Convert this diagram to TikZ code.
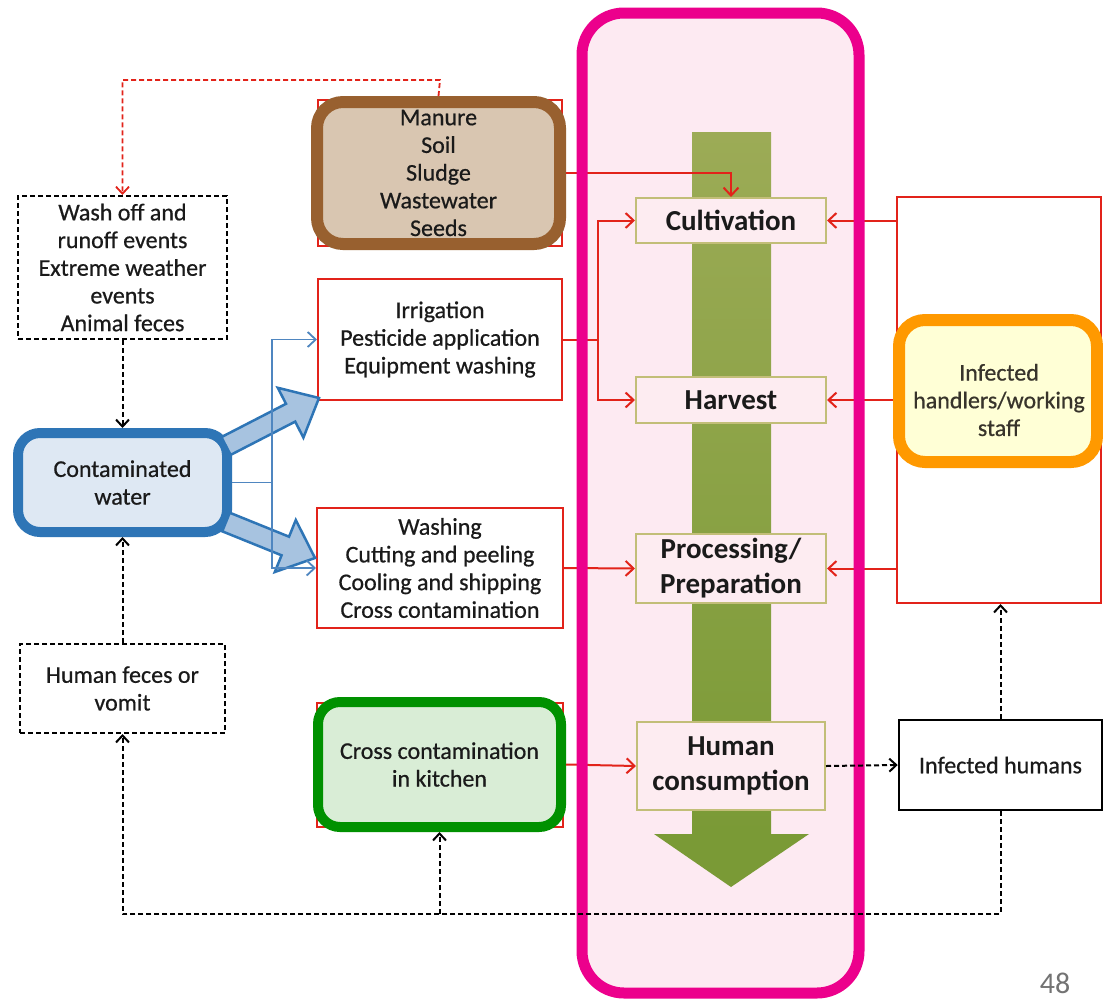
\documentclass[tikz,border=0pt]{standalone}
\usepackage{fontspec}
\setmainfont{Carlito}
\newfontfamily\semib{Carlito}[FakeBold=0.6]
\usetikzlibrary{arrows.meta}
\definecolor{pinkS}{HTML}{EC008C}
\definecolor{pinkF}{HTML}{FDEAF2}
\definecolor{redc}{HTML}{E2231A}
\definecolor{olivec}{HTML}{C2BE78}
\definecolor{boxpink}{HTML}{FDECF1}
\definecolor{greenT}{HTML}{9CAB56}
\definecolor{greenB}{HTML}{7A9A36}
\definecolor{blueS}{HTML}{2E75B6}
\definecolor{blueF}{HTML}{DEE8F3}
\definecolor{blueA}{HTML}{A7C3E0}
\definecolor{blueL}{HTML}{4F86C0}
\definecolor{brownS}{HTML}{98602F}
\definecolor{brownF}{HTML}{D9C6B1}
\definecolor{greenS}{HTML}{009100}
\definecolor{greenF}{HTML}{D9EDD6}
\definecolor{orangeS}{HTML}{FF9900}
\definecolor{yellowF}{HTML}{FFFFD6}
\definecolor{txtc}{HTML}{1A1A1A}
\begin{document}
\begin{tikzpicture}[x=1pt,y=-1pt,
  txt/.style={font=\semib\fontsize{24}{27.7}\selectfont, text=txtc, align=center, inner sep=0pt},
  btxt/.style={font=\fontsize{29}{35}\selectfont\bfseries, text=txtc, align=center, inner sep=0pt},
  dbox/.style={txt, draw=black, line width=2pt, dash pattern=on 5pt off 3pt, fill=white},
  rbox/.style={txt, draw=redc, line width=2pt, fill=white},
  obox/.style={btxt, draw=olivec, line width=2pt, fill=boxpink},
  thick box/.style={txt, line width=#1, rounded corners=22pt},
  redln/.style={draw=redc, line width=2pt},
  redar/.style={redln, -{Straight Barb[length=8pt,width=15pt,line width=2pt]}},
  blkar/.style={draw=black, line width=2pt, dash pattern=on 5pt off 3pt, -{Straight Barb[length=7pt,width=13pt,line width=2pt]}},
  rdashar/.style={draw=redc, line width=1.8pt, dash pattern=on 5pt off 3pt, -{Straight Barb[length=7pt,width=13pt,line width=1.8pt]}},
  bluln/.style={draw=blueL, line width=1.8pt},
  bluar/.style={bluln, -{Straight Barb[length=8pt,width=15pt,line width=1.8pt]}},
  blockar/.style={draw=blueS, line width=2.5pt, fill=blueA, line join=miter}
]
\useasboundingbox (0,0) rectangle (1103,999);
\fill[white] (0,0) rectangle (1103,999);

% pink column background
\fill[pinkF, rounded corners=42pt] (582,13) rectangle (859,993);

% green process arrow
\shade[top color=greenT, bottom color=greenB] (692,132) rectangle (771,836);
\fill[greenB] (654,834) -- (809,834) -- (731,887) -- cycle;

% left boxes
\node[dbox, minimum width=209pt, minimum height=143pt] (washoff) at (122.5,267.5)
  {Wash off and\\runoff events\\Extreme weather\\events\\Animal feces};
\node[dbox, minimum width=205pt, minimum height=89pt] (feces) at (122.5,688.5)
  {Human feces or\\vomit};
\node[thick box=10pt, draw=blueS, fill=blueF, minimum width=209pt, minimum height=99pt] (contam) at (122.5,482.5)
  {Contaminated\\water};

% middle boxes
\draw[redln] (318,100) rectangle (562,246);
\node[thick box=12pt, draw=brownS, fill=brownF, rounded corners=26pt, minimum width=243pt, minimum height=142pt] (manure) at (438.5,173)
  {Manure\\Soil\\Sludge\\Wastewater\\Seeds};
\node[rbox, minimum width=244pt, minimum height=121pt] (irrig) at (440,339.5)
  {Irrigation\\Pesticide application\\Equipment washing};
\node[rbox, minimum width=246pt, minimum height=120pt] (washing) at (440,568)
  {Washing\\Cutting and peeling\\Cooling and shipping\\Cross contamination};
\draw[redln] (317,703) rectangle (563,827);
\node[thick box=10pt, draw=greenS, fill=greenF, minimum width=243pt, minimum height=125pt] (kitchen) at (439.5,764.5)
  {Cross contamination\\in kitchen};

% stage boxes
\node[obox, minimum width=190pt, minimum height=45pt] (cultiv) at (731,220.5) {Cultivation};
\node[obox, minimum width=190pt, minimum height=46pt] (harvest) at (731,400) {Harvest};
\node[obox, minimum width=190pt, minimum height=69pt] (proc) at (731,568.5) {Processing/\\Preparation};
\node[obox, minimum width=188pt, minimum height=88pt] (consum) at (731,766) {Human\\consumption};

% right side
\node[draw=redc, line width=2pt, fill=white, minimum width=204pt, minimum height=406pt, inner sep=0pt] (frame) at (999,400) {};
\node[txt, draw=black, line width=2.5pt, fill=white, minimum width=203pt, minimum height=90pt] (infhum) at (1000.5,765) {Infected humans};

% red connectors
\coordinate (redtop) at (440,80);
\draw[rdashar] (manure.north) -- (redtop) -| (washoff.north);
\draw[redar] (manure.east) -| (cultiv.north);
\coordinate (rj) at (598,339.5);
\draw[redln] (irrig.east) -- (rj);
\draw[redar] (rj) |- (cultiv.west);
\draw[redar] (rj) |- (harvest.west);
\draw[redar] (washing.east) -- (proc.west);
\draw[redar] (kitchen.east) -- (consum.west);
\draw[redar] (frame.west |- cultiv.east) -- (cultiv.east);
\draw[redar] (frame.west |- harvest.east) -- (harvest.east);
\draw[redar] (frame.west |- proc.east) -- (proc.east);

% orange handlers box (over frame)
\node[thick box=12pt, draw=orangeS, fill=yellowF, rounded corners=26pt, minimum width=198pt, minimum height=142pt] (handlers) at (998,391) {};
\node[txt, text=black!80!olive] (handlerstxt) at (999,400) {Infected\\handlers/working\\staff};

% big blue block arrows
\draw[blockar] (221.4,437.1) -- (286.0,403.8) -- (277.8,387.8) -- (319,398) -- (303.4,437.6) -- (295.2,421.6) -- (230.6,454.9) -- cycle;
\draw[blockar] (229.75,512.7) -- (289.05,536.7) -- (295.8,520.0) -- (315,558) -- (274.8,572.0) -- (281.55,555.3) -- (222.25,531.3) -- cycle;

% thin blue connectors
\coordinate (bj) at (272,482.5);
\draw[bluln] (contam.east) -- (bj);
\draw[bluar] (bj) |- (irrig.west);
\draw[bluar] (bj) |- (washing.west);

% pink column border
\draw[pinkS, line width=11pt, rounded corners=42pt] (582,13) rectangle (859,993);

% black dashed connectors
\draw[blkar] (washoff.south) -- (contam.north);
\draw[blkar] (feces.north) -- (contam.south);
\draw[blkar] (consum.east) -- (infhum.west);
\draw[blkar] (infhum.north) -- (infhum.north |- frame.south);
\coordinate (lowR) at (1000.5,914);
\coordinate (lowM) at (439.5,914);
\draw[blkar] (infhum.south) -- (lowR) -| (feces.south);
\draw[blkar] (lowM) -- (kitchen.south);

% page number
\node[font=\fontsize{30}{30}\selectfont, text=black!55, inner sep=0pt] (page) at (1055,983) {48};
\end{tikzpicture}
\end{document}
